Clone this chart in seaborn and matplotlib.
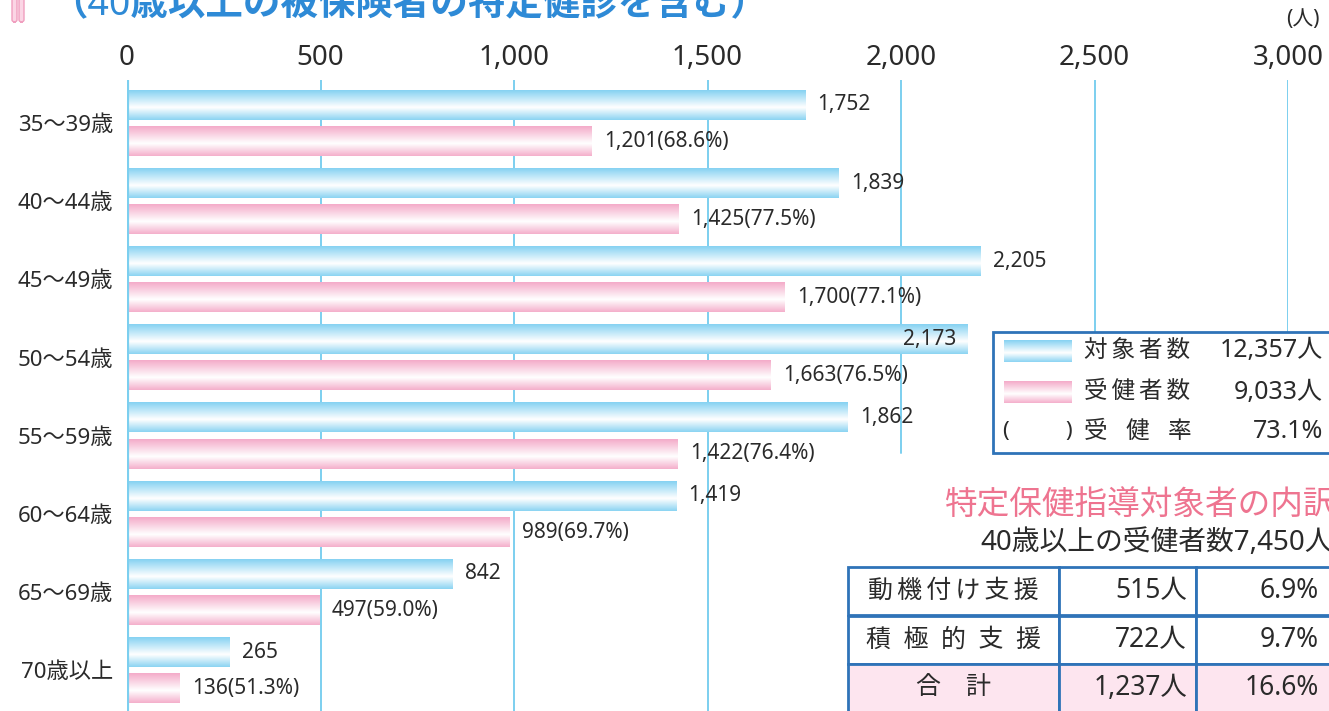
import numpy as np
import pandas as pd
import matplotlib.pyplot as plt
import seaborn as sns
from matplotlib.colors import LinearSegmentedColormap
from matplotlib.patches import Rectangle, FancyBboxPatch

# --- data ---
ages = ["35〜39歳", "40〜44歳", "45〜49歳", "50〜54歳",
        "55〜59歳", "60〜64歳", "65〜69歳", "70歳以上"]
targets = [1752, 1839, 2205, 2173, 1862, 1419, 842, 265]
examined = [1201, 1425, 1700, 1663, 1422, 989, 497, 136]
rates = ["68.6%", "77.5%", "77.1%", "76.5%", "76.4%", "69.7%", "59.0%", "51.3%"]
x_ticks = [0, 500, 1000, 1500, 2000, 2500, 3000]

legend_rows = ["対\u2009象\u2009者\u2009数", "受\u2009健\u2009者\u2009数", "受   健   率"]
legend_values = ["12,357人", "9,033人", "73.1%"]

title = "（40歳以上の被保険者の特定健診を含む）"
sub_title = "特定保健指導対象者の内訳"
sub_note = "40歳以上の受健者数7,450人"
table_labels = ["動\u2009機\u2009付\u2009け\u2009支\u2009援", "積\u2002極\u2002的\u2002支\u2002援", "合　計"]
table_counts = ["515人", "722人", "1,237人"]
table_shares = ["6.9%", "9.7%", "16.6%"]

BLUE = "#86d2f2"
PINK = "#f4abc9"
GRID = "#7ccfef"
FRAME = "#2f73b8"
TXT = "#2a2a2a"

W, H = 1329, 711


def fx(px):
    return px / W


def fy(py):
    return 1 - py / H


def grad_cmap(color):
    return LinearSegmentedColormap.from_list("g", [color, "white"])


def grad_column():
    # vertical shading: coloured edge -> white (a bit below centre) -> coloured edge
    t = np.linspace(0, 1, 64)
    v = np.interp(t, [0, 0.58, 1], [0.0, 1.0, 0.05])
    return v[:, None]


sns.set_theme(style="white")
plt.rcParams["font.family"] = ["Noto Sans", "Noto Sans CJK JP", "DejaVu Sans"]

df = pd.DataFrame({
    "age": ages * 2,
    "count": targets + examined,
    "kind": ["対象者数"] * len(ages) + ["受健者数"] * len(ages),
})

fig = plt.figure(figsize=(W / 100, H / 100), dpi=100)
ax = fig.add_axes([fx(127), 0, fx(1288) - fx(127), fy(80)])

sns.barplot(data=df, y="age", x="count", hue="kind", orient="h",
            palette=[BLUE, PINK], width=0.93, gap=0.19, legend=False, ax=ax)

# gradient fill on each bar
for cont, col in zip(ax.containers, [BLUE, PINK]):
    for p in cont.patches:
        bb = p.get_bbox()
        ax.imshow(grad_column(), cmap=grad_cmap(col), vmin=0, vmax=1,
                  extent=(bb.x0, bb.x1, max(bb.y0, bb.y1), min(bb.y0, bb.y1)),
                  aspect="auto", origin="upper", zorder=2, interpolation="bilinear")
        p.set_facecolor("none")
        p.set_edgecolor("none")

ax.set_xlim(0, 3000)
ax.set_ylim(7.52, -0.55)

# vertical grid lines (the ones on the right stop at the legend box)
line_end = {2000: 453, 2500: 332, 3000: 332}
for xt in x_ticks:
    end = line_end.get(xt, H)
    ymin = (H - end) / (H - 80)
    ax.axvline(xt, ymin=ymin, ymax=1, color=GRID, lw=1.4, zorder=1)
ax.axvline(0, color=GRID, lw=3, zorder=3)

# value labels
for i, (age, v) in enumerate(zip(ages, targets)):
    p = ax.containers[0].patches[i]
    y = p.get_y() + p.get_height() / 2
    if age == "50〜54歳":
        ax.annotate(f"{v:,}", (v, y), xytext=(-8, 0), textcoords="offset points",
                    ha="right", va="center", fontsize=15, color=TXT, zorder=4)
    else:
        ax.annotate(f"{v:,}", (v, y), xytext=(9, 0), textcoords="offset points",
                    ha="left", va="center", fontsize=15, color=TXT, zorder=4)
for i, (v, r) in enumerate(zip(examined, rates)):
    p = ax.containers[1].patches[i]
    y = p.get_y() + p.get_height() / 2
    ax.annotate(f"{v:,}({r})", (v, y), xytext=(9, 0), textcoords="offset points",
                ha="left", va="center", fontsize=15, color=TXT, zorder=4)

ax.xaxis.tick_top()
ax.set_xticks(x_ticks)
ax.set_xticklabels([f"{t:,}" for t in x_ticks], fontsize=20, color=TXT)
ax.tick_params(axis="x", length=0, pad=6)
ax.tick_params(axis="y", length=0, pad=10, labelsize=16, labelcolor=TXT)
ax.set_xlabel("")
ax.set_ylabel("")
for s in ax.spines.values():
    s.set_visible(False)
ax.grid(False)

fig.text(fx(1320), fy(20), "(人)", ha="right", va="center", fontsize=15, color=TXT)

# title, cut at the top edge
fig.text(fx(50), fy(15), title, ha="left", va="baseline", fontsize=27,
         fontweight="bold", color="#2e8ad6")
for x0 in (12, 19):
    fig.patches.append(FancyBboxPatch((fx(x0), fy(22)), fx(5), 30 / H,
                                      boxstyle="round,pad=0,rounding_size=0.003",
                                      transform=fig.transFigure, facecolor="#fbd6e5",
                                      edgecolor="#f09fbf", lw=1))

# legend box
fig.patches.append(Rectangle((fx(993), fy(453)), fx(1340) - fx(993), (453 - 332) / H,
                             transform=fig.transFigure, facecolor="white",
                             edgecolor=FRAME, lw=2, zorder=5))
row_y = [351, 392, 432]
for col, yc in zip([BLUE, PINK], row_y[:2]):
    sw = fig.add_axes([fx(1004), fy(yc + 11), fx(1072) - fx(1004), 22 / H], zorder=6)
    sw.imshow(grad_column(), cmap=grad_cmap(col), vmin=0, vmax=1, aspect="auto",
              interpolation="bilinear")
    sw.axis("off")
fig.text(fx(1002), fy(row_y[2]), "(", ha="left", va="center", fontsize=16, color=TXT, zorder=7)
fig.text(fx(1072), fy(row_y[2]), ")", ha="right", va="center", fontsize=16, color=TXT, zorder=7)
for name, val, yc in zip(legend_rows, legend_values, row_y):
    fig.text(fx(1084), fy(yc), name, ha="left", va="center", fontsize=17, color=TXT, zorder=7)
    fig.text(fx(1323), fy(yc), val, ha="right", va="center", fontsize=18, color=TXT, zorder=7)

# breakdown table
fig.text(fx(1336), fy(505), sub_title, ha="right", va="center", fontsize=23.5, color="#ee7490")
fig.text(fx(1333), fy(543), sub_note, ha="right", va="center", fontsize=20, color=TXT)
row_tops = [567, 616, 664]
row_h = 48
col_edges = [848, 1059, 1196, 1345]
for r, (lab, cnt, shr) in enumerate(zip(table_labels, table_counts, table_shares)):
    top = row_tops[r]
    fill = "#fde5ef" if r == len(table_labels) - 1 else "white"
    for c in range(3):
        fig.patches.append(Rectangle((fx(col_edges[c]), fy(top + row_h)),
                                     fx(col_edges[c + 1]) - fx(col_edges[c]), row_h / H,
                                     transform=fig.transFigure, facecolor=fill,
                                     edgecolor=FRAME, lw=2, zorder=5))
    yc = top + row_h / 2
    fig.text(fx((col_edges[0] + col_edges[1]) / 2), fy(yc), lab, ha="center", va="center",
             fontsize=18, color=TXT, zorder=7)
    fig.text(fx(1187), fy(yc), cnt, ha="right", va="center", fontsize=19, color=TXT, zorder=7)
    fig.text(fx(1319), fy(yc), shr, ha="right", va="center", fontsize=19, color=TXT, zorder=7)

fig.savefig("out.png", dpi=100)
